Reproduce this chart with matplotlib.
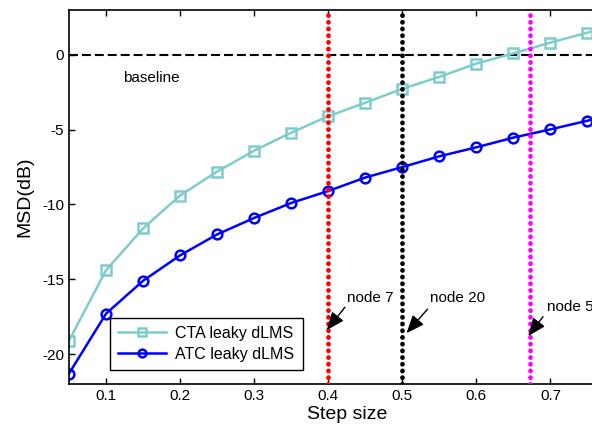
import matplotlib
matplotlib.use("Agg")
import matplotlib.pyplot as plt
import numpy as np

plt.rcParams['font.family'] = ['Liberation Sans', 'DejaVu Sans']

step = [0.05, 0.1, 0.15, 0.2, 0.25, 0.3, 0.35, 0.4, 0.45, 0.5, 0.55, 0.6, 0.65, 0.7, 0.75, 0.8]
cta = [-19.1, -14.4, -11.6, -9.4, -7.8, -6.4, -5.2, -4.1, -3.2, -2.27, -1.47, -0.58, 0.1, 0.82, 1.49, 2.1]
atc = [-21.3, -17.3, -15.1, -13.4, -12.0, -10.9, -9.9, -9.1, -8.2, -7.5, -6.78, -6.18, -5.53, -4.98, -4.4, -3.9]

node_labels = ['node 7', 'node 20', 'node 5']
node_steps = [0.4, 0.5, 0.672]
node_colors = ['#ff0000', '#000000', '#ff00ff']

fig = plt.figure(figsize=(5.92, 4.32), dpi=100)
ax = fig.add_axes([69/592, 48/432, (624.5-69)/592, 374/432])

ax.axhline(0, color='black', linestyle=(0, (4.3, 1.9)), linewidth=1.5, zorder=1)

l1, = ax.plot(step, cta, color='#80cccc', marker='s', markersize=6.5, markerfacecolor='none',
              markeredgewidth=1.8, linewidth=1.8, label='CTA leaky dLMS', zorder=2)
l2, = ax.plot(step, atc, color='#0000ff', marker='o', markersize=7, markerfacecolor='none',
              markeredgewidth=1.8, linewidth=1.8, label='ATC leaky dLMS', zorder=2)

for xs, c in zip(node_steps, node_colors):
    ax.axvline(xs, color=c, linestyle=(0, (0.05, 1.37)), linewidth=3.4,
               dash_capstyle='round', zorder=3)

ax.text(0.1223, -1.53, 'baseline', fontsize=11, va='center', ha='left')

text_pos = [(0.426, -16.27), (0.537, -16.27), (0.695, -16.87)]
tails = [(0.4225, -16.87), (0.534, -17.0), (0.69, -17.5)]
tips = [(0.398, -18.4), (0.5057, -18.6), (0.67, -18.8)]
for lab, tp, tl, tip in zip(node_labels, text_pos, tails, tips):
    ax.text(tp[0], tp[1], lab, fontsize=11, va='center', ha='left', zorder=5)
    ax.annotate('', xy=tip, xytext=tl,
                arrowprops=dict(arrowstyle='-|>,head_length=1.1,head_width=0.45', color='black',
                                lw=1.0, shrinkA=0, shrinkB=0),
                zorder=5)

ax.set_xlim(0.05, 0.8)
ax.set_ylim(-22, 3)
ax.set_xticks([0.1, 0.2, 0.3, 0.4, 0.5, 0.6, 0.7])
ax.set_xticklabels(['0.1', '0.2', '0.3', '0.4', '0.5', '0.6', '0.7'])
ax.set_yticks([-20, -15, -10, -5, 0])
ax.set_yticklabels(['-20', '-15', '-10', '-5', '0'])
ax.tick_params(direction='in', top=True, right=True, labelsize=11, length=4, width=1)
for s in ax.spines.values():
    s.set_linewidth(1.2)

ax.set_xlabel('Step size', fontsize=14, labelpad=2)
ax.set_ylabel('MSD(dB)', fontsize=14, labelpad=6)

leg = ax.legend(handles=[l1, l2], loc='lower left', bbox_to_anchor=(0.0738, 0.0374),
                borderaxespad=0, fontsize=11.5, fancybox=False, framealpha=1,
                edgecolor='black', handlelength=3, markerscale=0.8,
                borderpad=0.5, labelspacing=0.4, handletextpad=0.6)
leg.get_frame().set_linewidth(1.0)

fig.savefig('out.png', dpi=100)
